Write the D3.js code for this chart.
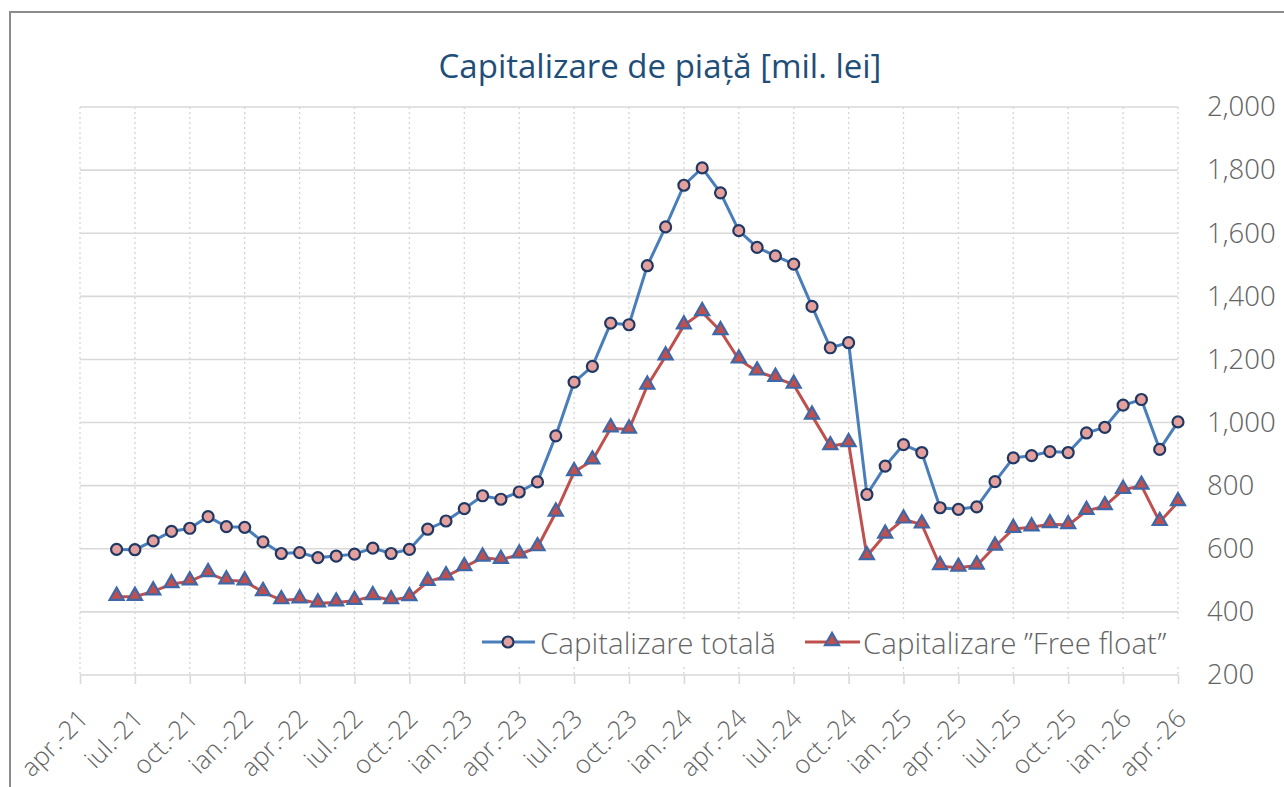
<!DOCTYPE html>
<meta charset="utf-8">
<style>
body { margin: 0; background: #fff; }
svg { font-family: "Open Sans", "Noto Sans", sans-serif; }
.grid-h line { stroke: #d9d9d9; stroke-width: 1.6; }
.grid-v line { stroke: #d4d4d4; stroke-width: 1.3; stroke-dasharray: 2,3; }
.axis text { fill: #646464; font-weight: 300; font-family: "Open Sans Light", "Open Sans", sans-serif; }
.axis path { display: none; }
.axis line { stroke: #d9d9d9; stroke-width: 1.6; }
</style>
<body>
<div id="chart"></div>
<script src="https://d3js.org/d3.v7.min.js"></script>
<script>
// month labels on the x axis, one every 3 months from apr.-21
var tickLabels = ["apr.-21","iul.-21","oct.-21","ian.-22","apr.-22","iul.-22","oct.-22",
  "ian.-23","apr.-23","iul.-23","oct.-23","ian.-24","apr.-24","iul.-24","oct.-24",
  "ian.-25","apr.-25","iul.-25","oct.-25","ian.-26","apr.-26"];
var yTicks = [200, 400, 600, 800, 1000, 1200, 1400, 1600, 1800, 2000];

// monthly values, jun.-21 .. apr.-26 (month 2 .. 60 counted from apr.-21)
var firstMonth = 2;
var totalCap = [598, 597, 625, 655, 665, 702, 670,
  668, 622, 585, 588, 572, 577, 583, 602, 585, 598, 662, 688,
  727, 768, 757, 780, 812, 958, 1128, 1178, 1315, 1310, 1497, 1620,
  1752, 1807, 1728, 1608, 1555, 1528, 1502, 1368, 1237, 1253, 772, 862,
  930, 905, 730, 725, 733, 813, 888, 895, 908, 905, 967, 985,
  1055, 1073, 915, 1002];
var freeFloat = [448, 448, 465, 488, 497, 523, 500,
  497, 463, 437, 440, 427, 430, 435, 450, 437, 447, 495, 513,
  542, 572, 565, 582, 605, 715, 843, 880, 982, 978, 1117, 1210,
  1308, 1350, 1290, 1200, 1162, 1142, 1120, 1022, 925, 935, 577, 645,
  693, 677, 545, 540, 547, 607, 663, 668, 678, 675, 720, 735,
  787, 800, 685, 748];
var seriesNames = ["Capitalizare totală", "Capitalizare \u201DFree float\u201D"];

var W = 1284, H = 787;
var plotL = 80, plotR = 1178, plotT = 107, plotB = 675;

var svg = d3.select("#chart").append("svg").attr("width", W).attr("height", H);

// outer frame
svg.append("path").attr("d", "M10,787 V12 H1284")
  .attr("fill", "none").attr("stroke", "#8c8c8c").attr("stroke-width", 2);

var x = d3.scaleLinear().domain([0, 60]).range([plotL, plotR]);
var y = d3.scaleLinear().domain([200, 2000]).range([plotB, plotT]);

var tickIdx = tickLabels.map(function(d, i) { return i * 3; });

// vertical dotted gridlines
svg.append("g").attr("class", "grid-v")
  .selectAll("line").data(tickIdx).enter().append("line")
  .attr("x1", function(d) { return x(d); }).attr("x2", function(d) { return x(d); })
  .attr("y1", plotT).attr("y2", plotB);

// horizontal gridlines
svg.append("g").attr("class", "grid-h")
  .selectAll("line").data(yTicks).enter().append("line")
  .attr("x1", plotL).attr("x2", plotR)
  .attr("y1", function(d) { return y(d); }).attr("y2", function(d) { return y(d); });

// right y axis
var yAxis = svg.append("g").attr("class", "axis")
  .attr("transform", "translate(" + plotR + ",0)")
  .call(d3.axisRight(y).tickValues(yTicks).tickSize(0).tickPadding(29).tickFormat(d3.format(",")));
yAxis.selectAll("text").style("font-size", "27.5px");

// bottom x axis
var xAxis = svg.append("g").attr("class", "axis")
  .attr("transform", "translate(0," + plotB + ")")
  .call(d3.axisBottom(x).tickValues(tickIdx).tickSize(9)
    .tickFormat(function(d) { return tickLabels[d / 3]; }));
xAxis.selectAll("text")
  .style("font-size", "25.5px")
  .attr("text-anchor", "end")
  .attr("dy", "0.35em")
  .attr("transform", "translate(3,39) rotate(-45)")
  .attr("y", 0).attr("x", 0);

// title
svg.append("text").attr("x", 660).attr("y", 78).attr("text-anchor", "middle")
  .style("font-size", "33px").attr("fill", "#1f4e79")
  .text("Capitalizare de piață [mil. lei]");

var line = d3.line()
  .x(function(d, i) { return x(firstMonth + i); })
  .y(function(d) { return y(d); });

svg.append("path").datum(totalCap).attr("d", line)
  .attr("fill", "none").attr("stroke", "#4a7ebb").attr("stroke-width", 3);
svg.append("path").datum(freeFloat).attr("d", line)
  .attr("fill", "none").attr("stroke", "#c0504d").attr("stroke-width", 3);

var tri = d3.symbol().type(d3.symbolTriangle).size(85);

svg.append("g").selectAll("path").data(freeFloat).enter().append("path")
  .attr("d", tri)
  .attr("transform", function(d, i) { return "translate(" + x(firstMonth + i) + "," + (y(d) - 1) + ")"; })
  .attr("fill", "#c0504d").attr("stroke", "#3e68a8").attr("stroke-width", 2.2);

svg.append("g").selectAll("circle").data(totalCap).enter().append("circle")
  .attr("cx", function(d, i) { return x(firstMonth + i); })
  .attr("cy", function(d) { return y(d); })
  .attr("r", 5.5)
  .attr("fill", "#e3a09c").attr("stroke", "#1f3864").attr("stroke-width", 2.2);

// legend
var leg = svg.append("g").style("font-family", "\"Open Sans Light\", \"Open Sans\", sans-serif");
leg.append("rect").attr("x", 476).attr("y", 620).attr("width", 706).attr("height", 44).attr("fill", "#fff");
leg.append("line").attr("x1", 482).attr("x2", 535).attr("y1", 642).attr("y2", 642)
  .attr("stroke", "#4a7ebb").attr("stroke-width", 3);
leg.append("circle").attr("cx", 508).attr("cy", 642).attr("r", 5.5)
  .attr("fill", "#e3a09c").attr("stroke", "#1f3864").attr("stroke-width", 2.2);
leg.append("text").attr("x", 540).attr("y", 654).style("font-size", "29.5px")
  .style("font-weight", 300).attr("fill", "#646464").text(seriesNames[0]);
leg.append("line").attr("x1", 805).attr("x2", 860).attr("y1", 642).attr("y2", 642)
  .attr("stroke", "#c0504d").attr("stroke-width", 3);
leg.append("path").attr("d", tri).attr("transform", "translate(832,641)")
  .attr("fill", "#c0504d").attr("stroke", "#3e68a8").attr("stroke-width", 2.2);
leg.append("text").attr("x", 863).attr("y", 654).style("font-size", "29.5px")
  .style("font-weight", 300).attr("fill", "#646464").text(seriesNames[1]);
</script>
</body>
